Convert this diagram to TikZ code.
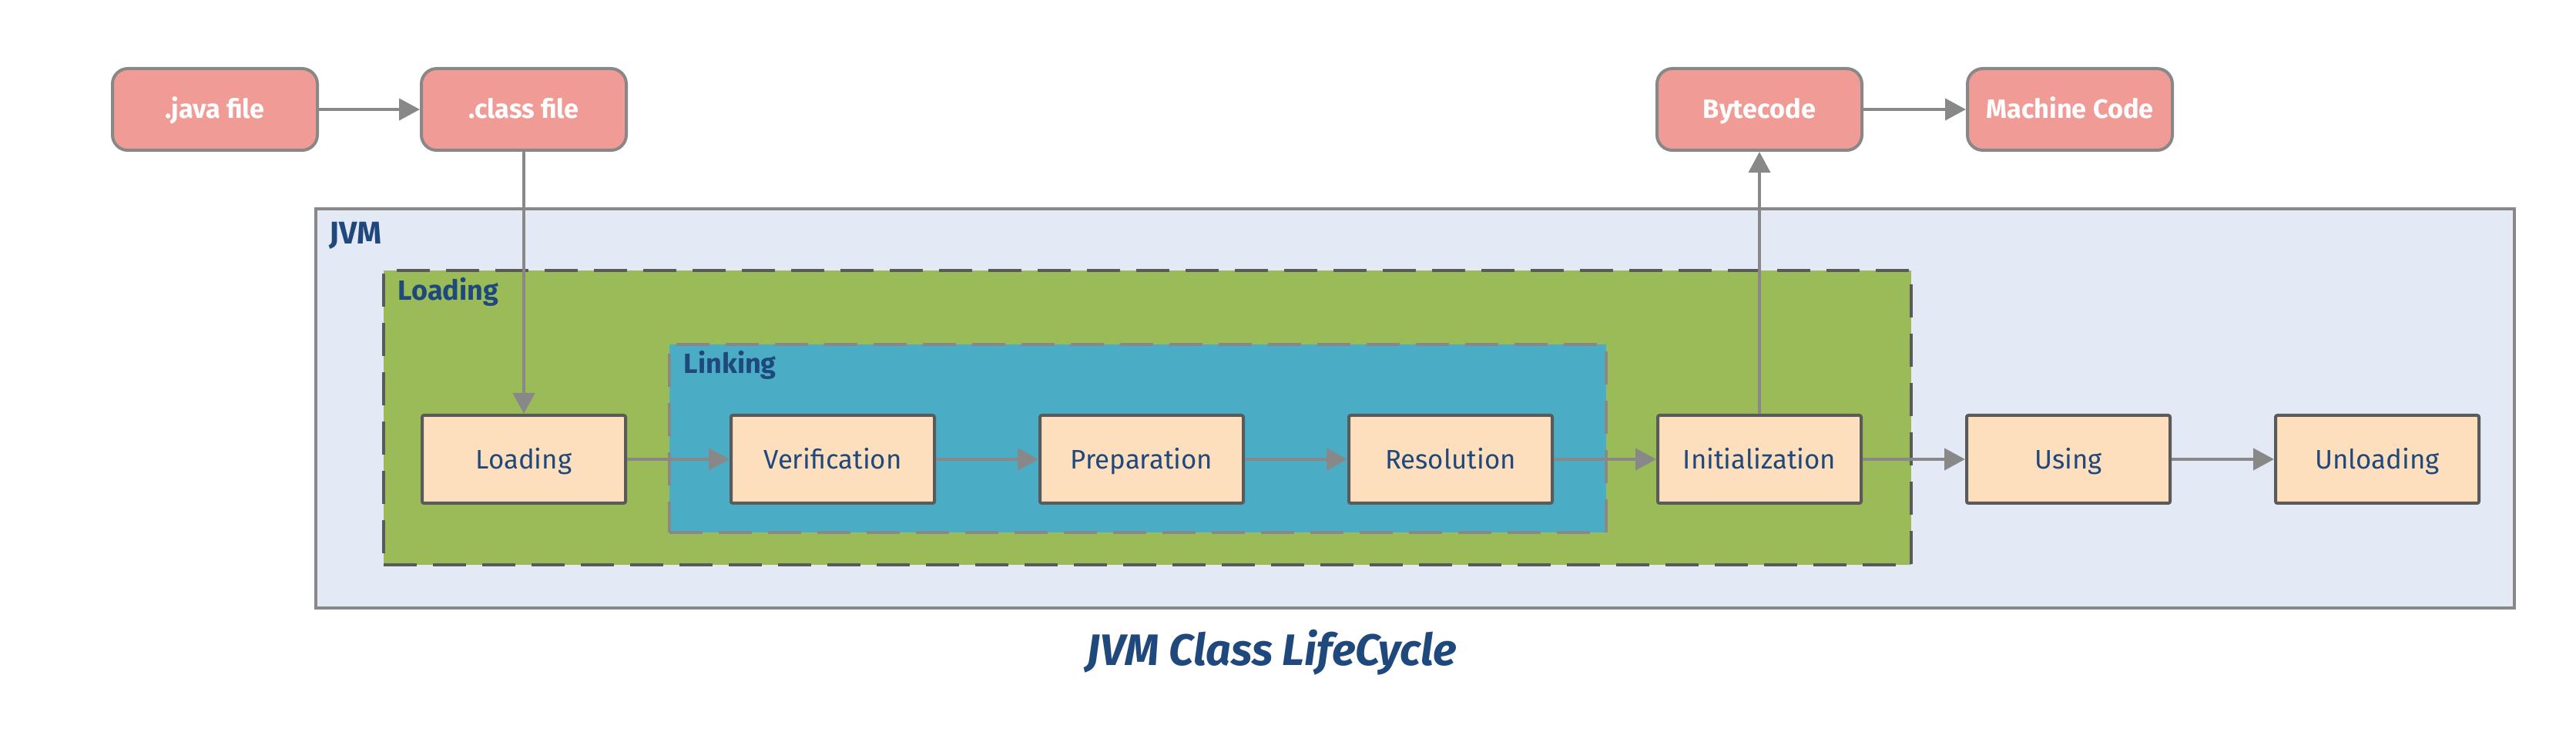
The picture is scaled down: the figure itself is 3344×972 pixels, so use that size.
\documentclass[tikz,border=0pt]{standalone}
\usepackage{fontspec}
\setmainfont{Fira Sans}
\usetikzlibrary{arrows.meta}
\definecolor{salmon}{RGB}{240,155,150}
\definecolor{peach}{RGB}{253,223,189}
\definecolor{jvmfill}{RGB}{227,234,245}
\definecolor{greenfill}{RGB}{155,187,89}
\definecolor{bluefill}{RGB}{75,172,198}
\definecolor{txtblue}{RGB}{31,73,125}
\definecolor{edgegray}{RGB}{136,136,136}
\definecolor{darkgray}{RGB}{90,90,90}
\tikzset{
  topnode/.style={draw=edgegray, line width=1pt, fill=salmon, rounded corners=5pt,
    minimum width=66.5pt, minimum height=26.5pt, inner sep=0pt,
    text height=0.82em, text depth=0.22em,
    text=white, font=\fontsize{8.6pt}{10pt}\selectfont\bfseries},
  stagebox/.style={draw=darkgray, line width=1pt, fill=peach, rounded corners=0.6pt,
    minimum width=66pt, minimum height=28.5pt, inner sep=0pt,
    text height=0.86em, text depth=0.22em,
    text=txtblue, font=\fontsize{8.7pt}{10pt}\selectfont},
  jvmbox/.style={draw=edgegray, line width=0.8pt, fill=jvmfill, inner sep=0pt},
  loadbox/.style={draw=darkgray, line width=1pt, fill=greenfill, inner sep=0pt,
    dash pattern=on 10.75pt off 5.25pt},
  linkbox/.style={draw=edgegray, line width=0.8pt, fill=bluefill, inner sep=0pt,
    dash pattern=on 10.75pt off 5.25pt},
  grouplabel/.style={anchor=base west, inner sep=0pt, text=txtblue},
  flow/.style={draw=edgegray, line width=1pt, -{Triangle[length=6.75pt,width=7pt]}},
}
\begin{document}
\begin{tikzpicture}[x=0.25pt, y=-0.25pt]
\useasboundingbox (0,0) rectangle (3344,972);
% containers
\node[jvmbox, minimum width=713.5pt, minimum height=129.5pt] (jvm) at (1837,530) {};
\node[loadbox, minimum width=495.75pt, minimum height=95.5pt] (loadgrp) at (1489.5,542) {};
\node[linkbox, minimum width=304pt, minimum height=61pt] (linkgrp) at (1477,569) {};
\node[grouplabel, font=\fontsize{10.2pt}{12pt}\selectfont\bfseries] (jvmlbl) at (427,317) {JVM};
\node[grouplabel, font=\fontsize{9pt}{11pt}\selectfont\bfseries] (loadlbl) at (516,390) {Loading};
\node[grouplabel, font=\fontsize{9pt}{11pt}\selectfont\bfseries] (linklbl) at (887,485) {Linking};
% top nodes
\node[topnode] (java) at (279,142) {.java file};
\node[topnode] (class) at (680,142) {.class file};
\node[topnode] (byte) at (2284,142) {Bytecode};
\node[topnode] (mach) at (2687,142) {Machine Code};
% stages
\node[stagebox] (load) at (680,596) {Loading};
\node[stagebox] (verif) at (1081,596) {Verification};
\node[stagebox] (prep) at (1482,596) {Preparation};
\node[stagebox] (resol) at (1883,596) {Resolution};
\node[stagebox] (init) at (2284,596) {Initialization};
\node[stagebox] (using) at (2685,596) {Using};
\node[stagebox] (unload) at (3086,596) {Unloading};
% connectors
\draw[flow] (java) -- (class);
\draw[flow] (byte) -- (mach);
\draw[flow] (class) -- (load);
\draw[flow] (init) -- (byte);
\draw[flow] (load) -- (verif);
\draw[flow] (verif) -- (prep);
\draw[flow] (prep) -- (resol);
\draw[flow] (resol) -- (init);
\draw[flow] (init) -- (using);
\draw[flow] (using) -- (unload);
% title
\node[anchor=base, inner sep=0pt, text=txtblue, font=\fontsize{14.3pt}{16pt}\selectfont\bfseries\itshape] (title) at (1651,863) {JVM Class LifeCycle};
\end{tikzpicture}
\end{document}
